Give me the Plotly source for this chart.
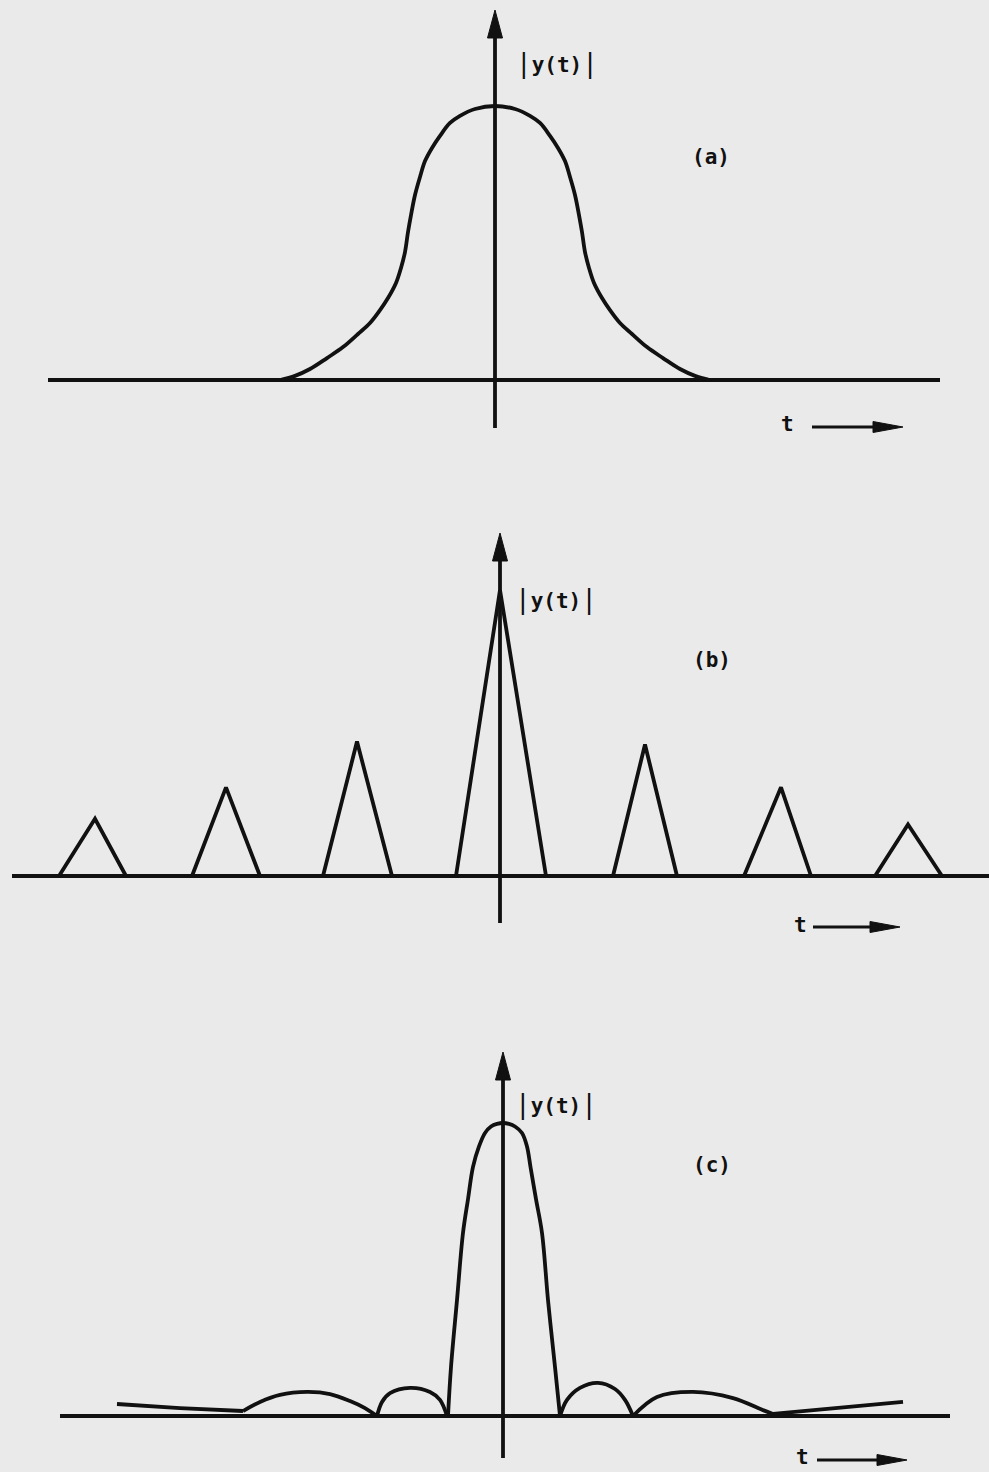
import plotly.graph_objects as go

W, H = 989, 1472
INK = "#111111"
PAPER = "#eaeaea"
LW = 3.8
FONT = "DejaVu Sans Mono"

# ---- (a) smooth single pulse: time t and normalised magnitude |y(t)| ----
t_a = [-21.5, -20.0, -18.5, -16.8, -15.2, -13.7, -12.5, -11.5, -10.7, -9.9, -9.4,
       -9.0, -8.7, -8.4, -8.0, -7.5, -7.0, -6.3, -5.5, -4.5, -3.5, -2.0, 0.0,
       2.0, 3.5, 4.5, 5.5, 6.3, 7.0, 7.5, 8.0, 8.4, 8.7, 9.0, 9.4, 9.9, 10.7,
       11.5, 12.5, 13.7, 15.2, 16.8, 18.5, 20.0, 21.5]
amp_a = [0.000, 0.015, 0.040, 0.080, 0.120, 0.168, 0.208, 0.255, 0.299, 0.354,
         0.409, 0.467, 0.540, 0.602, 0.675, 0.741, 0.799, 0.847, 0.891, 0.938,
         0.964, 0.989, 1.000, 0.989, 0.964, 0.938, 0.891, 0.847, 0.799, 0.741,
         0.675, 0.602, 0.540, 0.467, 0.409, 0.354, 0.299, 0.255, 0.208, 0.168,
         0.120, 0.080, 0.040, 0.015, 0.000]

# ---- (b) train of triangular pulses ----
b_left = [-44.1, -30.8, -17.7, -4.4, 11.3, 24.4, 37.5]
b_apex = [-40.5, -27.4, -14.3, 0.0, 14.5, 28.1, 40.8]
b_right = [-37.4, -24.0, -10.8, 4.6, 17.7, 31.1, 44.2]
b_height = [0.20, 0.31, 0.47, 1.00, 0.46, 0.31, 0.18]

# ---- (c) main lobe with side lobes ----
c_main_t = [-5.5, -5.2, -4.6, -4.0, -3.5, -3.0, -2.4, -1.8, -1.2, -0.6, 0.0,
            0.6, 1.2, 1.9, 2.4, 2.75, 3.3, 3.9, 4.5, 5.2, 5.7]
c_main_amp = [0.0, 0.167, 0.396, 0.625, 0.740, 0.850, 0.920, 0.966, 0.988, 0.997, 1.0,
              0.997, 0.988, 0.966, 0.920, 0.850, 0.740, 0.625, 0.396, 0.167, 0.0]
c_ltail_t = [-38.6, -32.3, -26.0]
c_ltail_amp = [0.041, 0.027, 0.017]
c_l2_t = [-26.0, -24.3, -22.3, -19.6, -17.3, -15.3, -13.8, -12.6]
c_l2_amp = [0.017, 0.048, 0.072, 0.082, 0.075, 0.051, 0.027, 0.0]
c_l1_t = [-12.6, -12.1, -11.3, -9.3, -7.3, -6.3, -5.6]
c_l1_amp = [0.0, 0.048, 0.078, 0.096, 0.082, 0.055, 0.0]
c_r1_t = [5.7, 6.4, 7.7, 9.5, 11.2, 12.2, 13.0]
c_r1_amp = [0.0, 0.055, 0.096, 0.113, 0.092, 0.055, 0.0]
c_r2_t = [13.0, 15.4, 19.0, 23.0, 26.0, 27.0]
c_r2_amp = [0.0, 0.065, 0.082, 0.061, 0.020, 0.007]
c_rtail_t = [27.0, 33.0, 40.0]
c_rtail_amp = [0.007, 0.027, 0.048]

panel_labels = ["(a)", "(b)", "(c)"]
y_label = "y(t)"
t_label = "t"

# panel geometry in page pixels: region, baseline, origin and scale
PX_PER_T = 10.0
panels = [
    dict(top=0, bottom=470, base=380, unit=274, axis=495,
         vbot=428, vtip=10, hl=48, hr=940,
         ylab=(557, 63), plab=(711, 157), tlab=(787, 424), tarrow=(812, 903, 427)),
    dict(top=480, bottom=950, base=876, unit=286, axis=500,
         vbot=923, vtip=533, hl=12, hr=989,
         ylab=(556, 599), plab=(712, 660), tlab=(800, 925), tarrow=(813, 900, 927)),
    dict(top=990, bottom=1472, base=1416, unit=293, axis=503,
         vbot=1458, vtip=1052, hl=60, hr=950,
         ylab=(556, 1104), plab=(712, 1165), tlab=(802, 1457), tarrow=(817, 907, 1460)),
]


def to_data(p, px, py):
    return (px - p["axis"]) / PX_PER_T, (p["base"] - py) / p["unit"]


fig = go.Figure()


def refs(i):
    return (f"x{i + 1}" if i else "x"), (f"y{i + 1}" if i else "y")


def curve(i, x, y, spline=True, smoothing=0.9, width=LW):
    xr, yr = refs(i)
    fig.add_trace(go.Scatter(
        x=x, y=y, mode="lines",
        line=dict(color=INK, width=width, shape="spline" if spline else "linear",
                  smoothing=smoothing),
        xaxis=xr, yaxis=yr, hoverinfo="skip", showlegend=False))


def head(i, p, tip, direction, length, width):
    tx, ty = tip
    if direction == "up":
        pts = [(tx, ty), (tx - width / 2, ty + length), (tx + width / 2, ty + length)]
    else:
        pts = [(tx, ty), (tx - length, ty - width / 2), (tx - length, ty + width / 2)]
    xs, ys = zip(*[to_data(p, a, b) for a, b in pts])
    xr, yr = refs(i)
    fig.add_trace(go.Scatter(
        x=list(xs) + [xs[0]], y=list(ys) + [ys[0]], mode="lines", fill="toself",
        fillcolor=INK, line=dict(color=INK, width=1),
        xaxis=xr, yaxis=yr, hoverinfo="skip", showlegend=False))


# axes frames, arrows and labels for every panel
for i, p in enumerate(panels):
    x0, _ = to_data(p, p["hl"], p["base"])
    x1, _ = to_data(p, p["hr"], p["base"])
    curve(i, [x0, x1], [0, 0], spline=False)
    _, vb = to_data(p, p["axis"], p["vbot"])
    _, vt = to_data(p, p["axis"], p["vtip"] + 20)
    curve(i, [0, 0], [vb, vt], spline=False)
    head(i, p, (p["axis"], p["vtip"]), "up", 28, 15)
    ax0, ax1, ay = p["tarrow"]
    sx0, sy = to_data(p, ax0, ay)
    sx1, _ = to_data(p, ax1 - 20, ay)
    curve(i, [sx0, sx1], [sy, sy], spline=False, width=2.8)
    head(i, p, (ax1, ay), "right", 30, 11)

# (a)
curve(0, t_a, amp_a, smoothing=1.0)

# (b)
for l, c, r, h in zip(b_left, b_apex, b_right, b_height):
    curve(1, [l, c, r], [0, h, 0], spline=False)

# (c)
curve(2, c_main_t, c_main_amp, smoothing=1.0)
curve(2, c_ltail_t, c_ltail_amp, spline=False)
curve(2, c_rtail_t, c_rtail_amp, spline=False)
for tx, ty in [(c_l2_t, c_l2_amp), (c_l1_t, c_l1_amp), (c_r1_t, c_r1_amp), (c_r2_t, c_r2_amp)]:
    curve(2, tx, ty, smoothing=1.0)

layout = dict(
    width=W, height=H, margin=dict(l=0, r=0, t=0, b=0),
    paper_bgcolor=PAPER, plot_bgcolor=PAPER, showlegend=False,
)
BAR = '<span style="font-weight:normal;font-size:26px">|</span>'
annotations = []
for i, p in enumerate(panels):
    sfx = str(i + 1) if i else ""
    layout["xaxis" + sfx] = dict(
        domain=[0, 1], range=[-p["axis"] / PX_PER_T, (W - p["axis"]) / PX_PER_T],
        visible=False, fixedrange=True, anchor="y" + sfx)
    layout["yaxis" + sfx] = dict(
        domain=[1 - p["bottom"] / H, 1 - p["top"] / H],
        range=[-(p["bottom"] - p["base"]) / p["unit"], (p["base"] - p["top"]) / p["unit"]],
        visible=False, fixedrange=True, anchor="x" + sfx)
    items = [(BAR + f"<b>{y_label}</b>" + BAR, p["ylab"]),
             (f"<b>{panel_labels[i]}</b>", p["plab"]),
             (f"<b>{t_label}</b>", p["tlab"])]
    for text, (px, py) in items:
        annotations.append(dict(
            x=px / W, y=1 - py / H, xref="paper", yref="paper", text=text,
            showarrow=False, xanchor="center", yanchor="middle",
            font=dict(family=FONT, size=21, color=INK)))
layout["annotations"] = annotations
fig.update_layout(**layout)

fig.write_html("out.html")
